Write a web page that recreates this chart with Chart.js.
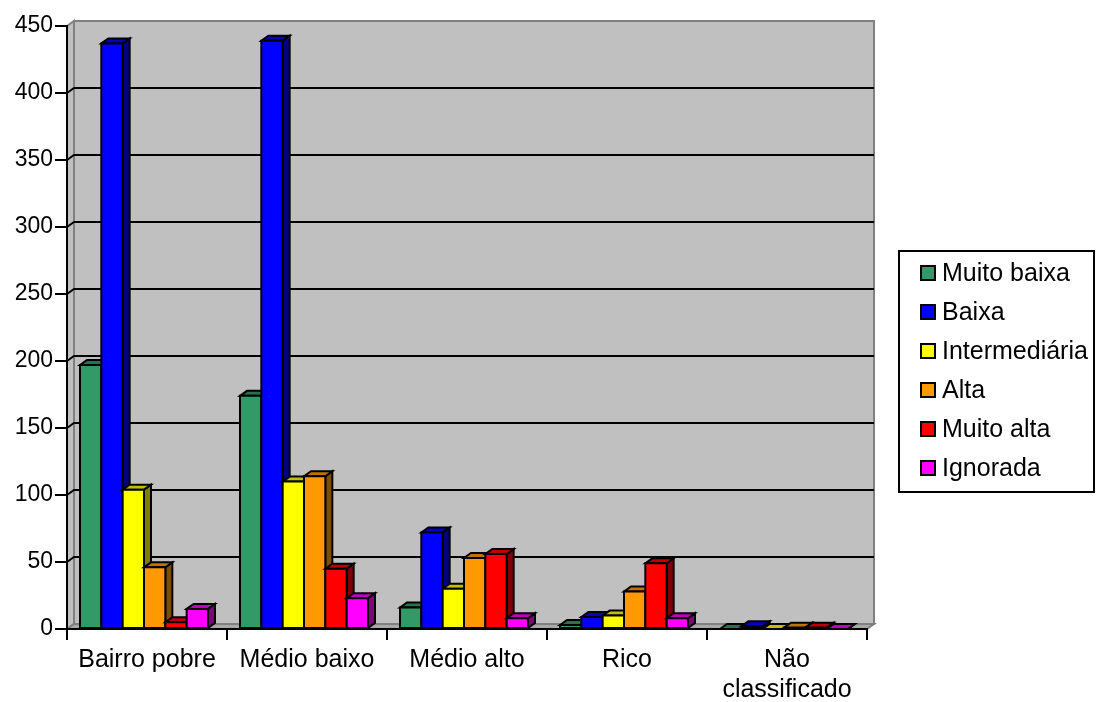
<!DOCTYPE html>
<html>
<head>
<meta charset="utf-8">
<script src="https://cdn.jsdelivr.net/npm/chart.js@4.4.1/dist/chart.umd.min.js"></script>
<style>
  html, body { margin: 0; padding: 0; background: #ffffff; }
  canvas { display: block; }
</style>
</head>
<body>
<canvas id="chart" width="1097" height="702"></canvas>
<script>
// Categories and series values
const categories = ['Bairro pobre', 'Médio baixo', 'Médio alto', 'Rico', ['Não', 'classificado']];
const seriesNames = ['Muito baixa', 'Baixa', 'Intermediária', 'Alta', 'Muito alta', 'Ignorada'];
const muitoBaixa    = [197, 174, 16, 3, 0];
const baixa         = [437, 439, 72, 9, 2];
const intermediaria = [104, 110, 30, 10, 0];
const alta          = [46, 114, 53, 28, 1];
const muitoAlta     = [5, 45, 56, 49, 1];
const ignorada      = [15, 23, 8, 8, 0];
const yMin = 0, yMax = 450, yStep = 50;

// Face colours: front, top (lit) and side (shaded)
const frontColors = ['#339966', '#0000FF', '#FFFF00', '#FF9900', '#FF0000', '#FF00FF'];
const topColors   = ['#267350', '#0000C0', '#C0C000', '#C07300', '#C00000', '#C000C0'];
const sideColors  = ['#1A4D33', '#000080', '#808000', '#804D00', '#800000', '#800080'];

const FONT = "'Liberation Sans', Arial, Helvetica, sans-serif";
const DX = 7, DY = 5, SHIFT = -3;

const seriesValues = [muitoBaixa, baixa, intermediaria, alta, muitoAlta, ignorada];

function poly(ctx, pts, fill, stroke, lw) {
  ctx.beginPath();
  ctx.moveTo(pts[0][0], pts[0][1]);
  for (let i = 1; i < pts.length; i++) ctx.lineTo(pts[i][0], pts[i][1]);
  ctx.closePath();
  if (fill) { ctx.fillStyle = fill; ctx.fill(); }
  if (stroke) { ctx.strokeStyle = stroke; ctx.lineWidth = lw; ctx.stroke(); }
}

// Walls, floor and gridlines drawn in perspective behind the columns
const wallsPlugin = {
  id: 'walls3d',
  beforeDraw(chart) {
    const ctx = chart.ctx;
    const { left: L, right: R, top: T, bottom: B } = chart.chartArea;
    const ys = chart.scales.y;
    ctx.save();
    ctx.lineJoin = 'miter';
    // back wall
    poly(ctx, [[L + DX, T - DY], [R + DX, T - DY], [R + DX, B - DY], [L + DX, B - DY]], '#C0C0C0', '#808080', 2);
    // side wall
    poly(ctx, [[L, T], [L + DX, T - DY], [L + DX, B - DY], [L, B]], '#C0C0C0', '#808080', 2);
    // floor
    poly(ctx, [[L, B], [L + DX, B - DY], [R + DX, B - DY], [R, B]], '#A8A8A8', '#808080', 2);
    // gridlines
    ctx.strokeStyle = '#000000';
    ctx.lineWidth = 2;
    for (let v = yMin + yStep; v < yMax; v += yStep) {
      const y = Math.round(ys.getPixelForValue(v));
      ctx.beginPath();
      ctx.moveTo(L, y);
      ctx.lineTo(L + DX, y - DY);
      ctx.lineTo(R + DX, y - DY);
      ctx.stroke();
    }
    ctx.restore();
  },
  beforeDatasetsDraw(chart) {
    const ctx = chart.ctx;
    ctx.save();
    ctx.lineJoin = 'miter';
    const n = chart.data.labels.length;
    for (let i = 0; i < n; i++) {
      chart.data.datasets.forEach((ds, d) => {
        const el = chart.getDatasetMeta(d).data[i];
        const w = el.width;
        const l = el.x - w / 2 + SHIFT, r = l + w;
        const t = el.y, b = el.base;
        // side face
        poly(ctx, [[r, t], [r + DX, t - DY], [r + DX, b - DY], [r, b]], sideColors[d], '#000', 2);
        // top face
        poly(ctx, [[l, t], [l + DX, t - DY], [r + DX, t - DY], [r, t]], topColors[d], '#000', 2);
        // front face
        poly(ctx, [[l, t], [r, t], [r, b], [l, b]], frontColors[d], '#000', 2);
      });
    }
    ctx.restore();
    return false;
  },
  afterDraw(chart) {
    // boxed legend on the right
    const ctx = chart.ctx;
    ctx.save();
    ctx.lineWidth = 2;
    ctx.strokeStyle = '#000';
    ctx.strokeRect(899, 251, 195, 241);
    ctx.font = '25px ' + FONT;
    ctx.textBaseline = 'middle';
    ctx.textAlign = 'left';
    chart.data.datasets.forEach((ds, d) => {
      const cy = 273 + d * 39;
      ctx.fillStyle = frontColors[d];
      ctx.fillRect(921, cy - 7, 14, 14);
      ctx.lineWidth = 2;
      ctx.strokeRect(921, cy - 7, 14, 14);
      ctx.fillStyle = '#000';
      ctx.fillText(ds.label, 942, cy + 1);
    });
    ctx.restore();
  }
};

new Chart(document.getElementById('chart'), {
  type: 'bar',
  data: {
    labels: categories,
    datasets: seriesNames.map((name, d) => ({
      label: name,
      data: seriesValues[d],
      backgroundColor: frontColors[d],
      borderColor: '#000',
      borderWidth: 2,
      categoryPercentage: 0.8,
      barPercentage: 1.0
    }))
  },
  options: {
    responsive: false,
    devicePixelRatio: 1,
    animation: false,
    layout: { padding: { left: 0, top: 26, right: 230, bottom: 0 } },
    plugins: { legend: { display: false }, tooltip: { enabled: false } },
    scales: {
      x: {
        grid: { display: true, drawOnChartArea: false, drawTicks: true, tickLength: 11, color: '#000', lineWidth: 2, offset: true },
        border: { display: true, color: '#000', width: 2 },
        ticks: { font: { family: FONT, size: 25 }, color: '#000', padding: 5, maxRotation: 0, autoSkip: false },
        afterFit(s) { s.height = 73; }
      },
      y: {
        min: yMin, max: yMax,
        ticks: { stepSize: yStep, font: { family: FONT, size: 23 }, color: '#000', padding: 2 },
        grid: { drawOnChartArea: false, drawTicks: true, tickLength: 12, color: '#000', lineWidth: 2 },
        border: { display: true, color: '#000', width: 2 },
        afterFit(s) { s.width = 67; }
      }
    }
  },
  plugins: [wallsPlugin]
});
</script>
</body>
</html>
